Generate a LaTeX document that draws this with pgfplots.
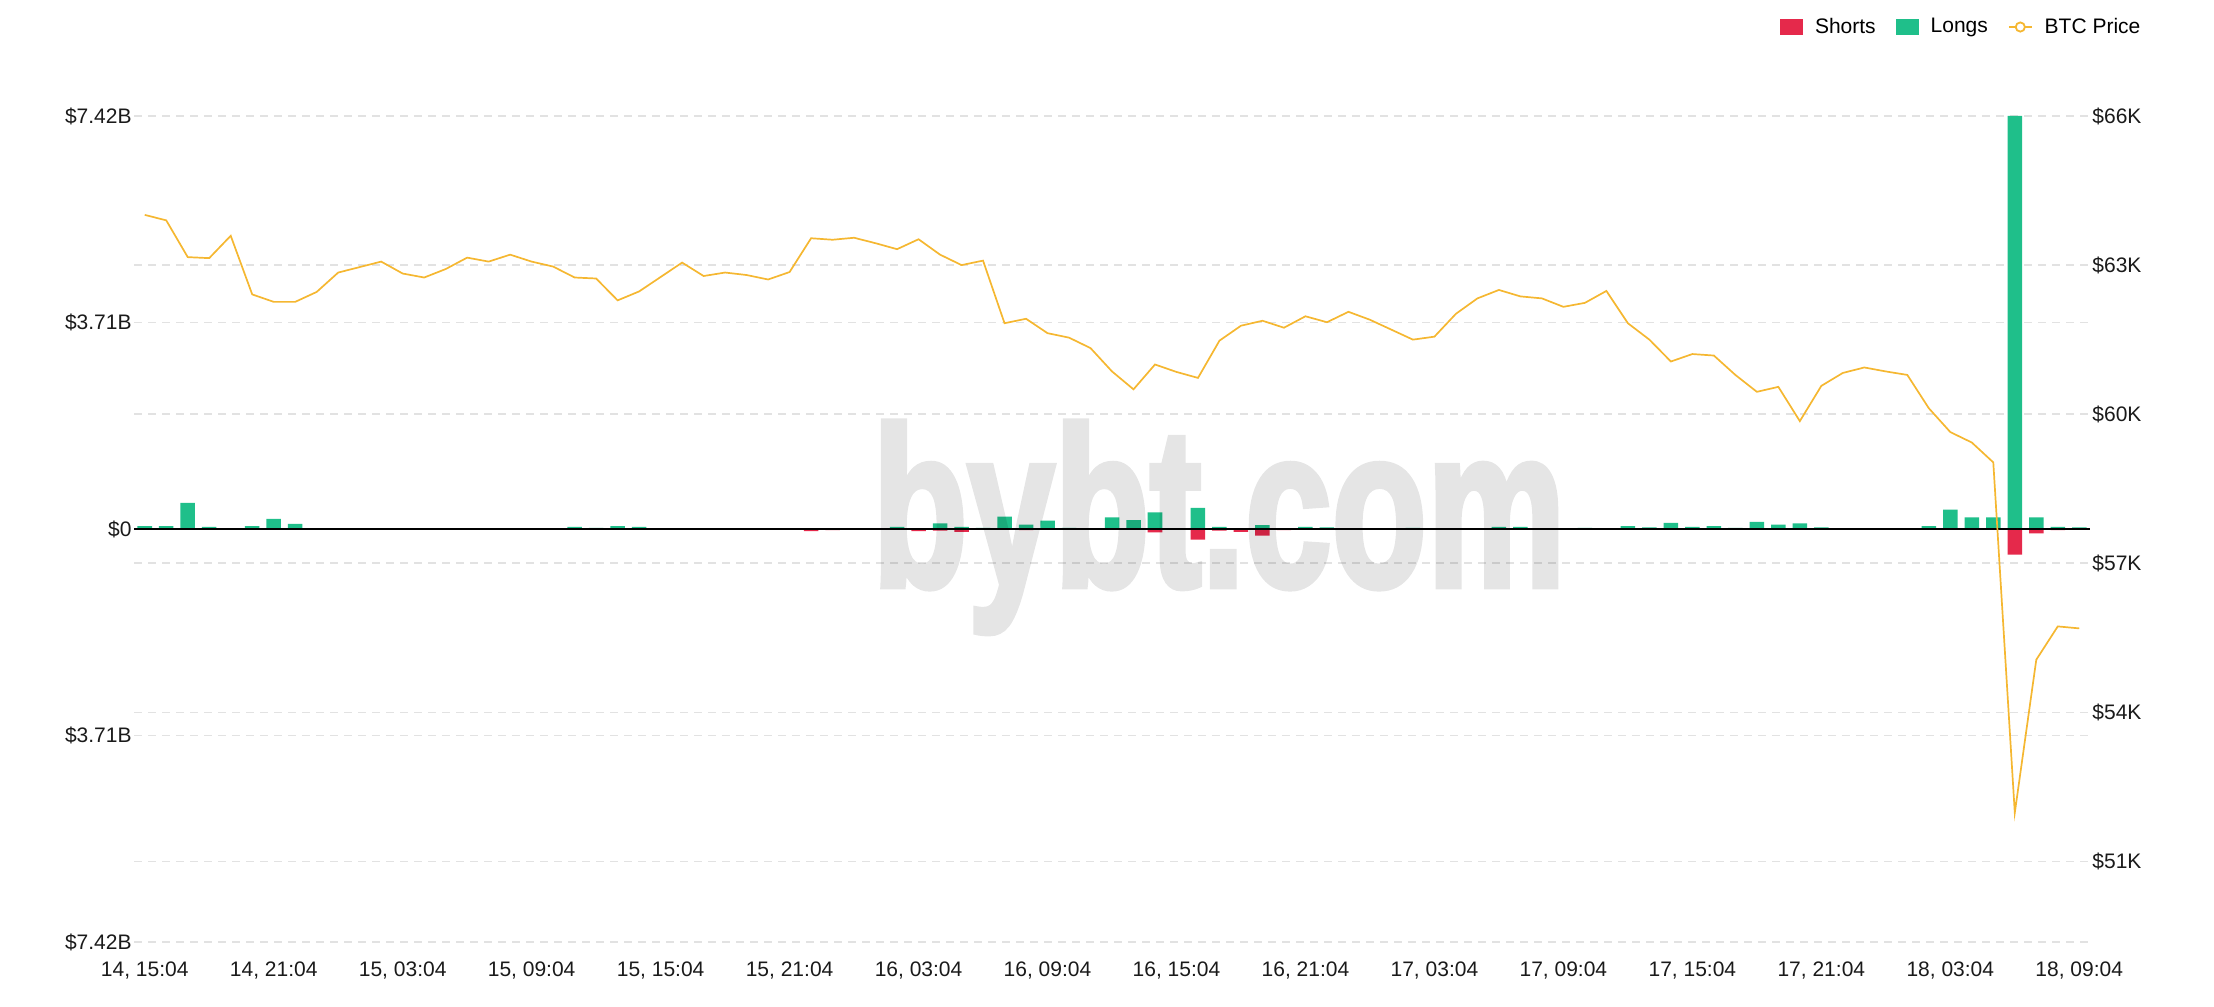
\documentclass[border=0pt]{standalone}
\usepackage{pgfplots}
\pgfplotsset{compat=1.18}
\usepackage{pgfplotstable}
\usepackage{fontspec}
\setmainfont{Liberation Sans}
\newfontfamily\wmfont[FakeBold=3]{Liberation Sans Bold}
\definecolor{longc}{HTML}{1FBF8A}
\definecolor{shortc}{HTML}{E5294B}
\definecolor{pricec}{HTML}{F5B731}
\definecolor{gridc}{HTML}{E2E2E2}
\definecolor{txtc}{HTML}{1A1A1A}

\pgfplotstableread{
i long short price
0 0.05 0 64.01
1 0.05 0 63.90
2 0.47 0.01 63.16
3 0.04 0 63.14
4 0.005 0.015 63.59
5 0.05 0 62.41
6 0.18 0.01 62.26
7 0.09 0 62.26
8 0.005 0 62.46
9 0.005 0.015 62.85
10 0.005 0 62.96
11 0.01 0 63.07
12 0.01 0 62.83
13 0.005 0 62.75
14 0.005 0 62.92
15 0.005 0.015 63.15
16 0.01 0 63.07
17 0.005 0 63.21
18 0.005 0 63.07
19 0.005 0 62.97
20 0.04 0 62.75
21 0.02 0 62.73
22 0.05 0 62.29
23 0.04 0 62.47
24 0.005 0 62.76
25 0.005 0.01 63.05
26 0.01 0 62.78
27 0.005 0 62.85
28 0.005 0.01 62.80
29 0.01 0 62.71
30 0.005 0.01 62.86
31 0.01 0.04 63.54
32 0.01 0.02 63.51
33 0.005 0.01 63.55
34 0.005 0.015 63.44
35 0.04 0 63.32
36 0.01 0.04 63.52
37 0.10 0.03 63.21
38 0.04 0.05 63.00
39 0.02 0.01 63.09
40 0.22 0.005 61.83
41 0.08 0.02 61.92
42 0.15 0.005 61.63
43 0.02 0 61.54
44 0.01 0.01 61.33
45 0.21 0 60.86
46 0.16 0.01 60.50
47 0.30 0.06 61.00
48 0.01 0.01 60.85
49 0.38 0.19 60.73
50 0.04 0.03 61.48
51 0.01 0.05 61.78
52 0.07 0.12 61.88
53 0.01 0.02 61.74
54 0.04 0 61.97
55 0.03 0 61.85
56 0.01 0 62.06
57 0.005 0 61.90
58 0.01 0 61.70
59 0.02 0 61.50
60 0.01 0 61.56
61 0.005 0 62.02
62 0.005 0 62.33
63 0.04 0 62.50
64 0.04 0 62.37
65 0.005 0 62.33
66 0.005 0 62.16
67 0.02 0 62.24
68 0.01 0 62.48
69 0.05 0 61.83
70 0.03 0 61.50
71 0.11 0 61.06
72 0.04 0 61.21
73 0.05 0 61.18
74 0.02 0 60.79
75 0.13 0 60.45
76 0.08 0 60.55
77 0.10 0 59.86
78 0.03 0 60.57
79 0.005 0.01 60.83
80 0.005 0.005 60.94
81 0.005 0 60.86
82 0.01 0.005 60.79
83 0.05 0 60.12
84 0.35 0.01 59.64
85 0.21 0.01 59.43
86 0.21 0.005 59.03
87 7.42 0.46 51.98
88 0.21 0.08 55.06
89 0.04 0.02 55.73
90 0.03 0.01 55.69
}\data

\pgfplotsset{
  twin/.style={
    at={(0pt,0pt)}, anchor=south west,
    scale only axis, width=978pt, height=413pt,
    xmin=-0.5, xmax=90.5,
    axis line style={draw=none},
    major tick length=0pt,
    ymajorgrids,
    major grid style={gridc, line width=0.8pt, dash pattern=on 4pt off 3pt},
    tick label style={font=\fontsize{10.5}{12}\selectfont, text=txtc},
  }
}

\begin{document}
\begin{tikzpicture}
\pgfplotsset{set layers}
\begin{axis}[
  twin,
  ymin=-7.42, ymax=7.42,
  ytick={-7.42,-3.71,0,3.71,7.42},
  yticklabels={\$7.42B,\$3.71B,\$0,\$3.71B,\$7.42B},
  yticklabel style={inner sep=1pt},
  xtick={0,6,...,90},
  xticklabels={{14, 15:04},{14, 21:04},{15, 03:04},{15, 09:04},{15, 15:04},{15, 21:04},{16, 03:04},{16, 09:04},{16, 15:04},{16, 21:04},{17, 03:04},{17, 09:04},{17, 15:04},{17, 21:04},{18, 03:04},{18, 09:04}},
  xticklabel style={anchor=base, yshift=-17pt, inner sep=0pt},
  legend columns=3,
  legend cell align=left,
  legend style={draw=none, fill=none, at={(1.028,1.1077)}, anchor=east, inner sep=0pt,
    font=\fontsize{10.5}{12}\selectfont,
    /tikz/every odd column/.append style={column sep=4pt},
    /tikz/every even column/.append style={column sep=8pt}},
]
\addplot[ybar, bar width=0.675, bar shift=0pt, fill=shortc, draw=none,
  legend image code/.code={\path[fill=shortc] (0pt,-4pt) rectangle (11.5pt,4pt);}]
  table[x=i, y expr=-\thisrow{short}] {\data};
\addlegendentry{Shorts}
\addplot[ybar, bar width=0.675, bar shift=0pt, fill=longc, draw=none,
  legend image code/.code={\path[fill=longc] (0pt,-4pt) rectangle (11.5pt,4pt);}]
  table[x=i, y=long] {\data};
\addlegendentry{Longs}
\addlegendimage{legend image code/.code={\draw[pricec, line width=0.9pt] (0pt,0pt) -- (11.5pt,0pt); \draw[pricec, line width=0.9pt, fill=white] (5.75pt,0pt) circle (2.3pt);}}
\addlegendentry{BTC Price}
\draw[black, line width=1pt] (axis cs:-0.5,0) -- (axis cs:90.5,0);
\end{axis}
\begin{axis}[
  twin,
  ymin=49.38, ymax=66,
  yticklabel pos=right,
  ytick={51,54,57,60,63,66},
  yticklabels={\$51K,\$54K,\$57K,\$60K,\$63K,\$66K},
  yticklabel style={inner sep=1pt},
  xtick=\empty,
]
\addplot[pricec, line width=0.85pt, mark=none] table[x=i, y=price] {\data};
\end{axis}
\begin{scope}[transparency group, opacity=0.1]
\node[anchor=base west, inner sep=0pt, text=black] at (369pt,178pt)
  {\resizebox{346.5pt}{82pt}{\wmfont bybt.com}};
\end{scope}
\pgfresetboundingbox
\useasboundingbox (-67pt,-32pt) rectangle (1040pt,471pt);
\end{tikzpicture}
\end{document}
